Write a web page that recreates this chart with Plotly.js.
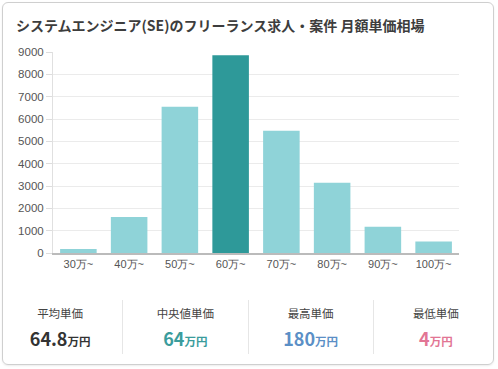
<!DOCTYPE html>
<html><head><meta charset="utf-8">
<script src="https://cdn.plot.ly/plotly-3.0.1.min.js"></script>
<style>
html,body{margin:0;padding:0;width:498px;height:369px;overflow:hidden;background:#fff;font-family:"Noto Sans CJK JP","Noto Sans",sans-serif;}
#card{position:absolute;left:2px;top:2px;width:490px;height:361px;border:1px solid #cfcfcf;border-radius:6px;box-shadow:0 1px 2px rgba(0,0,0,0.08);}
#chart{position:absolute;left:0;top:0;width:498px;height:290px;}
#stats{position:absolute;left:-2px;top:300px;width:500px;height:54px;display:flex;}
.col{width:125px;height:100%;position:relative;text-align:center;}
.col + .col{border-left:1px solid #e6e6e6;}
.lab{position:absolute;left:0;right:0;top:5px;font-size:11.5px;color:#444;line-height:16px;}
.val{position:absolute;left:0;right:0;top:26px;font-weight:bold;font-size:18px;line-height:24px;}
.val span{font-size:11.5px;}
</style></head>
<body>
<div id="card"></div>
<div id="chart"></div>
<div id="stats"></div>
<script>
const categories = ["30万~","40万~","50万~","60万~","70万~","80万~","90万~","100万~"];
const counts = [180, 1610, 6545, 8850, 5470, 3150, 1175, 520];
const highlightIndex = 3;
const yTicks = [0,1000,2000,3000,4000,5000,6000,7000,8000,9000];
const statLabels = ["平均単価","中央値単価","最高単価","最低単価"];
const statValues = ["64.8","64","180","4"];
const statColors = ["#333333","#3a9c9c","#5b8fc6","#e27594"];

const barColors = categories.map((c,i)=> i===highlightIndex ? "#2e9999" : "#8fd3d8");

Plotly.newPlot("chart",[{
  type:"bar", x:categories, y:counts,
  marker:{color:barColors}, hoverinfo:"none"
}],{
  width:498, height:290,
  margin:{l:53,r:38.5,t:51.7,b:36.7,pad:0},
  bargap:0.28,
  paper_bgcolor:"rgba(0,0,0,0)", plot_bgcolor:"rgba(0,0,0,0)",
  title:{text:"<b>システムエンジニア(SE)のフリーランス求人・案件 月額単価相場</b>",
    x:0, xref:"paper", xanchor:"left", y:24, yref:"container", yanchor:"middle",
    font:{family:"Noto Sans CJK JP",size:14,color:"#3d3d3d"}},
  showlegend:false,
  xaxis:{type:"category", showgrid:false, showline:true, linecolor:"#bbbbbb", linewidth:1.5,
    ticks:"", tickfont:{family:"Liberation Sans, Arial",size:11,color:"#555"}, fixedrange:true},
  yaxis:{range:[0,9000], tickvals:yTicks, ticktext:yTicks.map(String), showgrid:true, gridcolor:"#ebebeb",
    showline:true, linecolor:"#e0e0e0", zeroline:false, ticks:"outside", ticklen:6, tickcolor:"#dddddd",
    tickfont:{family:"Liberation Sans, Arial",size:11.5,color:"#555"}, fixedrange:true}
},{displayModeBar:false, staticPlot:true}).then(()=>{
  const t = document.querySelector("#chart .gtitle");
  if(t){ t.setAttribute("x","16"); }
});

const stats = document.getElementById("stats");
statLabels.forEach((l,i)=>{
  const c = document.createElement("div"); c.className="col";
  c.innerHTML = `<div class="lab">${l}</div><div class="val" style="color:${statColors[i]}">${statValues[i]}<span>万円</span></div>`;
  stats.appendChild(c);
});
</script>
</body></html>
